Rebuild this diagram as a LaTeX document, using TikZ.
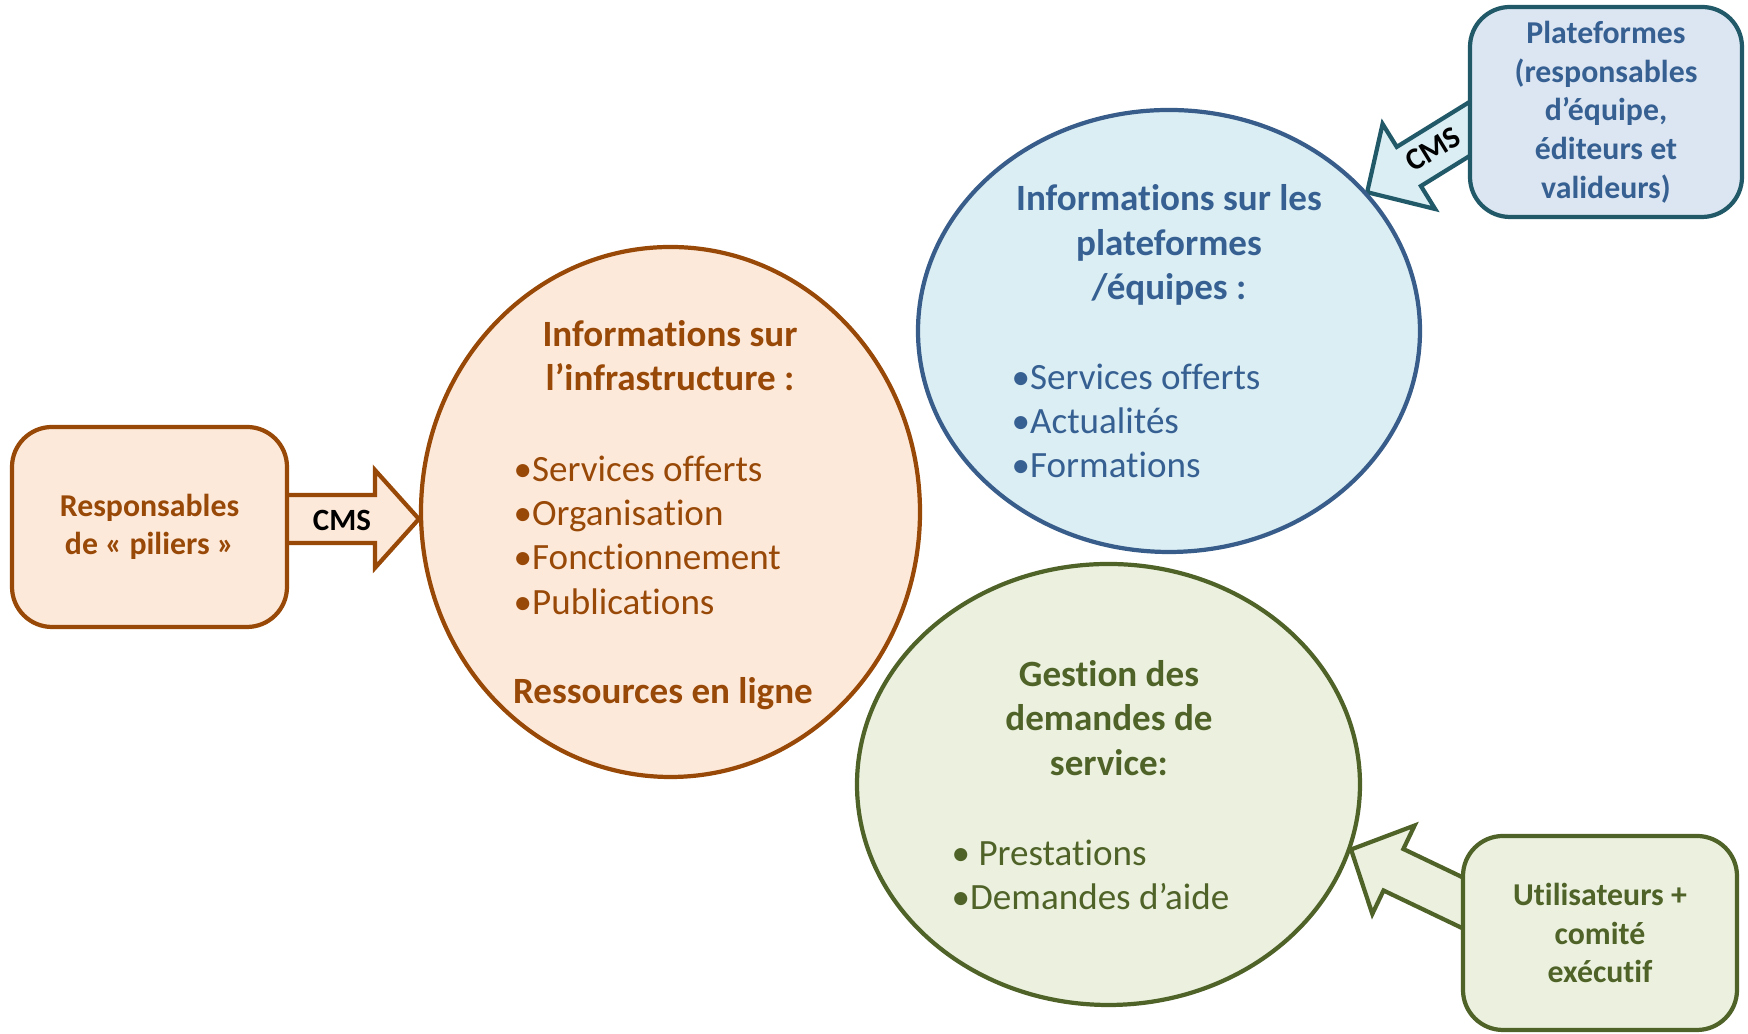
\documentclass[tikz,border=0pt]{standalone}
\usepackage{fontspec}
\setmainfont{Carlito}[RawFeature=-liga]
\usetikzlibrary{calc,shapes.geometric,backgrounds}

\definecolor{brun}{HTML}{984807}
\definecolor{peche}{HTML}{FDE9D9}
\definecolor{bleu}{HTML}{385D8A}
\definecolor{bleutxt}{HTML}{376092}
\definecolor{ciel}{HTML}{DBEEF4}
\definecolor{canard}{HTML}{215968}
\definecolor{lavande}{HTML}{DCE6F2}
\definecolor{olive}{HTML}{4F6228}
\definecolor{tilleul}{HTML}{EBF1DE}

\tikzset{
  bulle/.style={ellipse, line width=1.2pt, inner sep=0pt},
  acteur/.style={rectangle, rounded corners=0.4cm, line width=1.2pt, align=center,
    font=\fontsize{9.05}{11}\selectfont\bfseries, inner sep=0pt},
  titre/.style={align=center, font=\fontsize{10.55}{12.6}\selectfont\bfseries, inner sep=0pt},
  liste/.style={align=left, font=\fontsize{10.55}{12.6}\selectfont, inner sep=0pt},
  cms/.style={font=\fontsize{8.8}{11}\selectfont\bfseries, text=black, inner sep=0pt},
  fleche/.style={line width=1.2pt, line join=miter}
}

% fleche bloc : style, queue, pointe, demi-fut, demi-tete, longueur de tete
\newcommand{\flechebloc}[6]{%
  \coordinate (fq) at ($(#3)!1.25!(#2)$);
  \coordinate (fb) at ($(#3)!#6!(#2)$);
  \filldraw[fleche,#1] ($(fq)!#4!90:(#3)$) -- ($(fb)!#4!90:(#3)$) -- ($(fb)!#5!90:(#3)$) -- (#3)
    -- ($(fb)!#5!-90:(#3)$) -- ($(fb)!#4!-90:(#3)$) -- ($(fq)!#4!-90:(#3)$) -- cycle;
}

\begin{document}
\begin{tikzpicture}
    \useasboundingbox (0,0) rectangle (17.48,10.34);

    \node[bulle, draw=brun, fill=peche, minimum width=4.99cm, minimum height=5.3cm] (infra) at (6.705,5.22) {};
    \node[bulle, draw=bleu, fill=ciel, minimum width=5.02cm, minimum height=4.42cm] (equipes) at (11.69,7.03) {};
    \node[bulle, draw=olive, fill=tilleul, minimum width=5.03cm, minimum height=4.41cm] (demandes) at (11.085,2.495) {};

    \node[acteur, draw=brun, fill=peche, text=brun, minimum width=2.75cm, minimum height=2cm] (piliers) at (1.495,5.07) {Responsables\\de « piliers »};
    \node[acteur, draw=canard, fill=lavande, text=bleutxt, minimum width=2.72cm, minimum height=2.1cm] (plat) at (16.06,9.22) {Plateformes\\(responsables\\d’équipe,\\éditeurs et\\valideurs)};
    \node[acteur, draw=olive, fill=tilleul, text=olive, minimum width=2.74cm, minimum height=1.94cm] (users) at (16.0,1.01) {Utilisateurs +\\comité\\exécutif};

    \node[titre, text=brun] (titreinfra) at (6.70,6.78) {Informations sur\\l’infrastructure :};
    \node[liste, text=brun, anchor=west] (listeinfra) at (5.13,4.99) {•Services offerts\\•Organisation\\•Fonctionnement\\•Publications};
    \node[titre, text=brun] (ressources) at (6.63,3.40) {Ressources en ligne};

    \node[titre, text=bleutxt] (titreequipes) at (11.69,7.89) {Informations sur les\\plateformes\\/équipes :};
    \node[liste, text=bleutxt, anchor=west] (listeequipes) at (10.11,6.13) {•Services offerts\\•Actualités\\•Formations};

    \node[titre, text=olive] (titredemandes) at (11.09,3.16) {Gestion des\\demandes de\\service:};
    \node[liste, text=olive, anchor=west] (listedemandes) at (9.51,1.59) {• Prestations\\•Demandes d’aide};

    \coordinate (q1) at ([yshift=0.08cm]piliers.east);
    \coordinate (p1) at (infra.west |- q1);
    \coordinate (q2) at ([yshift=-0.18cm]plat.west);
    \coordinate (p2) at (equipes.35);
    \coordinate (q3) at ([yshift=0.31cm]users.west);
    \coordinate (p3) at (demandes.-15);

    \begin{scope}[on background layer]
        \flechebloc{draw=brun, fill=peche}{q1}{p1}{0.24cm}{0.49cm}{0.44cm}
        \flechebloc{draw=canard, fill=ciel}{q2}{p2}{0.23cm}{0.5cm}{0.49cm}
        \flechebloc{draw=olive, fill=tilleul}{q3}{p3}{0.23cm}{0.49cm}{0.47cm}
    \end{scope}

    \node[cms] (cms1) at (3.42,5.14) {CMS};
    \node[cms, rotate=31.5] (cms2) at (14.33,8.85) {CMS};
\end{tikzpicture}
\end{document}
